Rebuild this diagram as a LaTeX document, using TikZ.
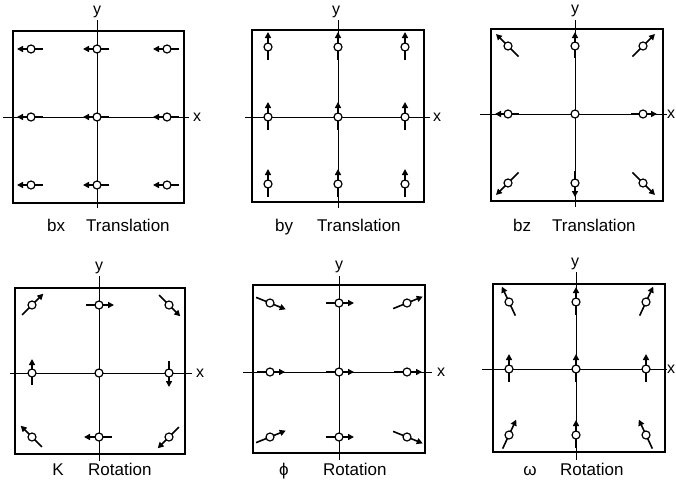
\documentclass[tikz,border=0pt]{standalone}
\usepackage{fontspec}
\setmainfont{Liberation Sans}
\usetikzlibrary{calc,arrows.meta}
\pgfdeclarelayer{bg}
\pgfsetlayers{bg,main}
\tikzset{
  frame/.style={line width=1.5pt},
  axis/.style={line width=0.9pt},
  vec/.style={line width=1.6pt,-{Triangle[length=6pt,width=6pt]}},
  pt/.style={circle,draw,fill=white,line width=1.2pt,inner sep=0pt,minimum size=8pt},
  captxt/.style={font=\fontsize{17}{20}\selectfont,inner sep=0pt,anchor=base west},
  symtxt/.style={font=\fontsize{17}{20}\selectfont,inner sep=0pt,anchor=base},
  axlab/.style={font=\fontsize{16}{19}\selectfont,inner sep=0pt},
}
% #1 name, #2 x, #3 y, #4 visual angle, #5 half length
\newcommand\dvec[5]{%
  \node[pt] (#1) at (#2,#3) {};
  \begin{pgfonlayer}{bg}
    \draw[vec] ($(#1.center)+({-(#5-1)*cos(#4)},{(#5-1)*sin(#4)})$) -- ($(#1.center)+({(#5+1)*cos(#4)},{-(#5+1)*sin(#4)})$);
  \end{pgfonlayer}}
\begin{document}
\begin{tikzpicture}[x=1pt,y=-1pt]
\useasboundingbox (0,0) rectangle (676,482);
\begin{pgfonlayer}{bg}
\fill[white] (0,0) rectangle (676,482);
\end{pgfonlayer}

% ---------- Panel 1 : bx ----------
\draw[frame] (13,31) rectangle (184,203);
\begin{pgfonlayer}{bg}
\draw[axis] (97,20) -- (97,208);
\draw[axis] (3,117) -- (189,117);
\end{pgfonlayer}
\node[axlab] (p1y) at (97,12) {y};
\node[axlab] (p1x) at (197,117) {x};
\dvec{p1a}{31}{49}{180}{13}
\dvec{p1b}{97}{49}{180}{13}
\dvec{p1c}{167}{49}{180}{13}
\dvec{p1d}{31}{117}{180}{13}
\dvec{p1e}{97}{117}{180}{13}
\dvec{p1f}{167}{117}{180}{13}
\dvec{p1g}{31}{185}{180}{13}
\dvec{p1h}{97}{185}{180}{13}
\dvec{p1i}{167}{185}{180}{13}
\node[captxt] (p1l) at (47,231) {bx};
\node[captxt] (p1t) at (86,231) {Translation};

% ---------- Panel 2 : by ----------
\draw[frame] (252,30) rectangle (424,202);
\begin{pgfonlayer}{bg}
\draw[axis] (338,20) -- (338,208);
\draw[axis] (245,117) -- (430,117);
\end{pgfonlayer}
\node[axlab] (p2y) at (336,12) {y};
\node[axlab] (p2x) at (437,117) {x};
\dvec{p2a}{268}{47}{90}{14}
\dvec{p2b}{338}{47}{90}{14}
\dvec{p2c}{405}{47}{90}{14}
\dvec{p2d}{268}{117}{90}{14}
\dvec{p2e}{338}{117}{90}{14}
\dvec{p2f}{405}{117}{90}{14}
\dvec{p2g}{268}{184}{90}{14}
\dvec{p2h}{338}{184}{90}{14}
\dvec{p2i}{405}{184}{90}{14}
\node[captxt] (p2l) at (275,231) {by};
\node[captxt] (p2t) at (317,231) {Translation};

% ---------- Panel 3 : bz ----------
\draw[frame] (491,29) rectangle (663,201);
\begin{pgfonlayer}{bg}
\draw[axis] (575,20) -- (575,207);
\draw[axis] (480,114) -- (667,114);
\end{pgfonlayer}
\node[axlab] (p3y) at (575,11) {y};
\node[axlab] (p3x) at (671,114) {x};
\dvec{p3a}{508}{46}{135}{16}
\dvec{p3b}{575}{46}{90}{13}
\dvec{p3c}{643}{46}{45}{16}
\dvec{p3d}{508}{114}{180}{12}
\node[pt] (p3e) at (575,114) {};
\dvec{p3f}{643}{114}{0}{13}
\dvec{p3g}{508}{183}{225}{16}
\dvec{p3h}{575}{183}{270}{13}
\dvec{p3i}{643}{183}{315}{16}
\node[captxt] (p3l) at (513,231) {bz};
\node[captxt] (p3t) at (552,231) {Translation};

% ---------- Panel 4 : kappa ----------
\draw[frame] (15,288) rectangle (185,454);
\begin{pgfonlayer}{bg}
\draw[axis] (99,276) -- (99,461);
\draw[axis] (10,373) -- (192,373);
\end{pgfonlayer}
\node[axlab] (p4y) at (99,268) {y};
\node[axlab] (p4x) at (200,373) {x};
\dvec{p4a}{32}{305}{45}{15}
\dvec{p4b}{99}{305}{0}{14}
\dvec{p4c}{169}{305}{315}{15}
\dvec{p4d}{32}{373}{90}{13}
\node[pt] (p4e) at (99,373) {};
\dvec{p4f}{169}{373}{270}{13}
\dvec{p4g}{32}{437}{135}{15}
\dvec{p4h}{99}{437}{180}{14}
\dvec{p4i}{169}{437}{225}{15}
\node[symtxt] (p4l) at (58,475) {Κ};
\node[captxt] (p4t) at (88,475) {Rotation};

% ---------- Panel 5 : phi ----------
\draw[frame] (253,285) rectangle (425,453);
\begin{pgfonlayer}{bg}
\draw[axis] (339,276) -- (339,460);
\draw[axis] (243,372) -- (432,372);
\end{pgfonlayer}
\node[axlab] (p5y) at (339,267) {y};
\node[axlab] (p5x) at (441,372) {x};
\dvec{p5a}{270}{303}{-22}{16}
\dvec{p5b}{339}{303}{0}{14}
\dvec{p5c}{407}{303}{22}{16}
\dvec{p5d}{270}{372}{0}{14}
\dvec{p5e}{339}{372}{0}{14}
\dvec{p5f}{407}{372}{0}{14}
\dvec{p5g}{270}{437}{22}{16}
\dvec{p5h}{339}{437}{0}{14}
\dvec{p5i}{407}{437}{-22}{16}
\node[symtxt] (p5l) at (284,475) {ϕ};
\node[captxt] (p5t) at (323,475) {Rotation};

% ---------- Panel 6 : omega ----------
\draw[frame] (493,284) rectangle (665,452);
\begin{pgfonlayer}{bg}
\draw[axis] (576,272) -- (576,460);
\draw[axis] (482,369) -- (667,369);
\end{pgfonlayer}
\node[axlab] (p6y) at (575,264) {y};
\node[axlab] (p6x) at (671,369) {x};
\dvec{p6a}{509}{302}{115}{16}
\dvec{p6b}{576}{302}{90}{14}
\dvec{p6c}{646}{302}{65}{16}
\dvec{p6d}{509}{369}{90}{14}
\dvec{p6e}{576}{369}{90}{14}
\dvec{p6f}{646}{369}{90}{14}
\dvec{p6g}{509}{435}{65}{16}
\dvec{p6h}{576}{435}{90}{14}
\dvec{p6i}{646}{435}{115}{16}
\node[symtxt] (p6l) at (530,475) {ω};
\node[captxt] (p6t) at (560,475) {Rotation};
\end{tikzpicture}
\end{document}
